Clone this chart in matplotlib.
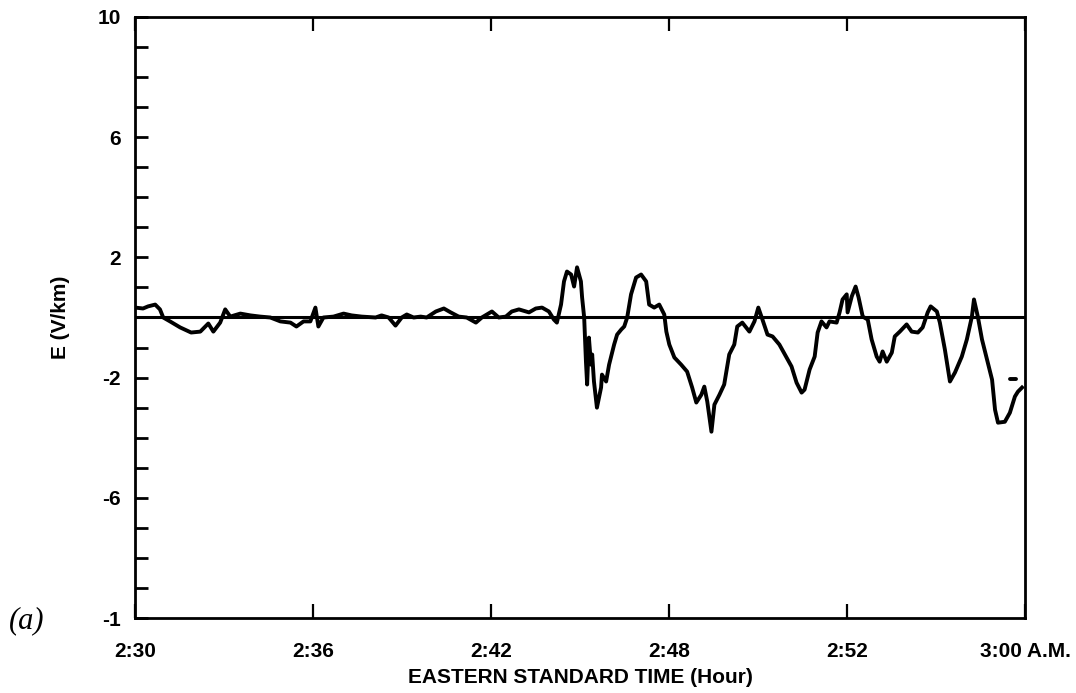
"""
Electric field record (a), 2:30-3:00 A.M. EST
"""
import numpy as np
import matplotlib
matplotlib.use('Agg')
import matplotlib.pyplot as plt

matplotlib.rcParams['font.family'] = 'Liberation Sans'
matplotlib.rcParams['font.weight'] = 'bold'
matplotlib.rcParams['axes.labelweight'] = 'bold'
matplotlib.rcParams['font.size'] = 15

# time in minutes after 2:30, field in V/km
t_min = [0.00, 0.27, 0.44, 0.68, 0.84, 0.95, 1.18, 1.52, 1.89, 2.20,
         2.47, 2.64, 2.87, 3.04, 3.21, 3.55, 3.89, 4.22, 4.56, 4.90,
         5.24, 5.44, 5.68, 5.91, 6.08, 6.18, 6.35, 6.69, 7.03, 7.30,
         7.64, 8.11, 8.31, 8.55, 8.78, 8.99, 9.16, 9.39, 9.63, 9.83,
         10.14, 10.41, 10.64, 10.91, 11.18, 11.49, 11.69, 12.03, 12.26, 12.50,
         12.70, 12.94, 13.28, 13.51, 13.72, 13.95, 14.12, 14.22, 14.36, 14.46,
         14.56, 14.70, 14.80, 14.90, 15.03, 15.07, 15.14, 15.20, 15.24, 15.30,
         15.37, 15.41, 15.47, 15.57, 15.71, 15.74, 15.88, 15.98, 16.15, 16.25,
         16.39, 16.49, 16.59, 16.72, 16.89, 17.06, 17.23, 17.33, 17.50, 17.67,
         17.84, 17.91, 18.01, 18.18, 18.41, 18.61, 18.78, 18.92, 19.09, 19.19,
         19.29, 19.43, 19.53, 19.70, 19.86, 20.03, 20.20, 20.30, 20.47, 20.71,
         20.88, 21.01, 21.15, 21.32, 21.49, 21.72, 21.89, 22.13, 22.30, 22.47,
         22.57, 22.74, 22.91, 23.01, 23.14, 23.31, 23.41, 23.65, 23.75, 23.85,
         23.99, 24.02, 24.16, 24.29, 24.39, 24.53, 24.70, 24.83, 25.00, 25.10,
         25.20, 25.34, 25.51, 25.61, 25.78, 26.01, 26.18, 26.39, 26.55, 26.72,
         26.82, 27.03, 27.13, 27.30, 27.47, 27.64, 27.87, 28.04, 28.21, 28.28,
         28.41, 28.55, 28.72, 28.89, 28.99, 29.09, 29.32, 29.49, 29.66, 29.76,
         29.90]
e_vkm = [0.33, 0.30, 0.37, 0.43, 0.27, 0.00, -0.13, -0.33, -0.50, -0.47,
         -0.20, -0.47, -0.17, 0.27, 0.03, 0.13, 0.07, 0.03, 0.00, -0.13,
         -0.17, -0.30, -0.13, -0.13, 0.33, -0.30, 0.00, 0.03, 0.13, 0.07,
         0.03, 0.00, 0.07, 0.00, -0.27, 0.00, 0.10, 0.00, 0.03, 0.00,
         0.20, 0.30, 0.17, 0.03, 0.00, -0.17, 0.00, 0.20, 0.00, 0.03,
         0.20, 0.27, 0.17, 0.30, 0.33, 0.20, -0.07, -0.17, 0.43, 1.20,
         1.53, 1.43, 1.03, 1.67, 1.20, 0.67, 0.00, -1.47, -2.23, -0.67,
         -1.57, -1.23, -2.13, -3.00, -2.33, -1.90, -2.13, -1.57, -0.90, -0.57,
         -0.40, -0.30, 0.00, 0.77, 1.33, 1.43, 1.20, 0.43, 0.33, 0.43,
         0.10, -0.47, -0.90, -1.33, -1.57, -1.80, -2.33, -2.83, -2.57, -2.30,
         -2.80, -3.80, -2.90, -2.57, -2.23, -1.23, -0.90, -0.30, -0.17, -0.47,
         -0.13, 0.33, -0.07, -0.57, -0.63, -0.90, -1.20, -1.63, -2.17, -2.50,
         -2.40, -1.73, -1.30, -0.50, -0.13, -0.33, -0.13, -0.17, 0.17, 0.60,
         0.77, 0.17, 0.70, 1.03, 0.67, 0.03, -0.07, -0.73, -1.30, -1.47,
         -1.13, -1.47, -1.17, -0.63, -0.47, -0.23, -0.47, -0.50, -0.33, 0.17,
         0.37, 0.20, -0.17, -1.07, -2.13, -1.83, -1.30, -0.73, 0.03, 0.60,
         0.03, -0.73, -1.40, -2.07, -3.07, -3.50, -3.47, -3.17, -2.63, -2.47,
         -2.33]

# small stray mark near the end of the trace
dash_t = [29.49, 29.70]
dash_e = [-2.03, -2.03]

x_ticks = [0, 6, 12, 18, 24, 30]
x_labels = ['2:30', '2:36', '2:42', '2:48', '2:52', '3:00 A.M.']
y_major = [10, 6, 2, -2, -6, -10]
y_labels = ['10', '6', '2', '-2', '-6', '-1']

fig = plt.figure(figsize=(10.76, 6.93), dpi=100)
ax = fig.add_axes([0.1255, 0.1082, 0.8271, 0.8673])

ax.plot(t_min, e_vkm, color='black', lw=2.8, solid_joinstyle='round')
ax.plot(dash_t, dash_e, color='black', lw=2.8, solid_capstyle='round')
ax.axhline(0, color='black', lw=2.2)

ax.set_xlim(0, 30)
ax.set_ylim(-10, 10)

ax.set_xticks(x_ticks)
ax.set_xticklabels(x_labels)
ax.set_yticks(y_major)
ax.set_yticklabels(y_labels)
ax.set_yticks(np.arange(-10, 11, 1), minor=True)

for side in ['left', 'right', 'top', 'bottom']:
    ax.spines[side].set_linewidth(2.0)

ax.tick_params(axis='y', which='both', direction='in', length=9, width=2,
               pad=10, right=False)
ax.tick_params(axis='x', which='major', direction='in', length=10, width=1.6,
               pad=17, top=True)

ax.set_xlabel('EASTERN STANDARD TIME (Hour)', labelpad=5)
ax.set_ylabel('E (V/km)', labelpad=20)

fig.text(0.025, 0.105, '(a)', family='Liberation Serif', style='italic',
         weight='normal', fontsize=22, ha='center', va='center')

fig.savefig('out.png', dpi=100)
plt.close()
